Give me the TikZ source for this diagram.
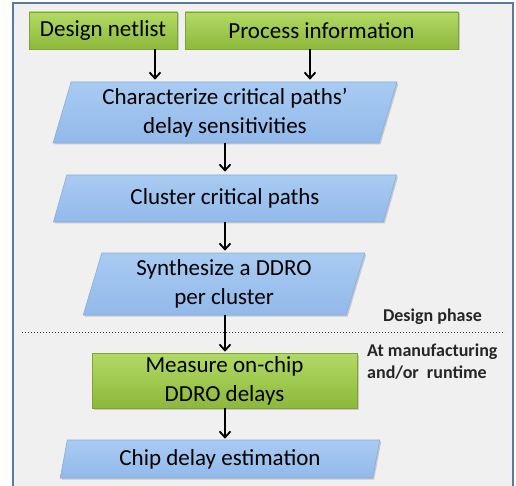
\documentclass[tikz,border=0pt]{standalone}
\usepackage{fontspec}
\setmainfont{Carlito}
\usetikzlibrary{shapes.geometric,arrows.meta,shadows,calc}
\definecolor{framebg}{HTML}{F0F0F0}
\definecolor{frameline}{HTML}{5B7AA0}
\definecolor{gtop}{HTML}{B2DA66}
\definecolor{gbot}{HTML}{8DB83A}
\definecolor{gline}{HTML}{7FA335}
\definecolor{btop}{HTML}{A8CBF2}
\definecolor{bbot}{HTML}{92B9EA}
\definecolor{bline}{HTML}{86AEDD}
\tikzset{
  mainfont/.style={font=\fontsize{23}{29}\selectfont, align=center, text=black},
  greenbox/.style={mainfont, rectangle, draw=gline, line width=0.6pt,
    top color=gtop, bottom color=gbot, inner sep=0pt,
    drop shadow={shadow xshift=1.5pt, shadow yshift=-1.5pt, opacity=0.35}},
  bluebox/.style={mainfont, trapezium, trapezium stretches=true, draw=bline, line width=0.6pt,
    top color=btop, bottom color=bbot, inner sep=0pt,
    drop shadow={shadow xshift=1.5pt, shadow yshift=-1.5pt, opacity=0.35}},
  arr/.style={line width=1.8pt, -{Straight Barb[length=6pt,width=11pt,line width=1.8pt]}},
  lbl/.style={font=\fontsize{18}{22}\selectfont\bfseries, text=black!85, inner sep=0pt}
}
\begin{document}
\begin{tikzpicture}[x=1pt,y=-1pt]
\useasboundingbox (0,0) rectangle (516,486);
\fill[white] (0,0) rectangle (516,486);
\draw[frameline, fill=framebg, line width=1.6pt] (13,3) rectangle (513,492);

\node[greenbox, minimum width=148, minimum height=37] (netlist) at (103,30.5) {Design netlist};
\node[greenbox, minimum width=273, minimum height=37] (process) at (321.5,30.5) {Process information};

\node[bluebox, minimum width=344, minimum height=61, trapezium left angle=73.6, trapezium right angle=106.4] (char) at (225,112.5) {Characterize critical paths'\\delay sensitivities};
\node[bluebox, minimum width=344, minimum height=47, trapezium left angle=68, trapezium right angle=112] (cluster) at (225,198.5) {Cluster critical paths};
\node[bluebox, minimum width=282, minimum height=62, trapezium left angle=74.7, trapezium right angle=105.3] (synth) at (224,284) {Synthesize a DDRO\\per cluster};
\node[greenbox, minimum width=265, minimum height=55] (measure) at (224.5,380.5) {Measure on-chip\\DDRO delays};
\node[bluebox, minimum width=320, minimum height=38, trapezium left angle=76.7, trapezium right angle=103.3] (chip) at (220,459) {Chip delay estimation};

\node[lbl, anchor=east] (phase) at (482,317) {Design phase};
\node[lbl, anchor=north west, align=left] (when) at (367,344) {At manufacturing\\and/or\ \ runtime};

\draw[dotted, line width=1pt, black!80] (22,332) -- (505,332);

\coordinate (ax1) at (155,0);
\coordinate (ax2) at (310,0);
\coordinate (ax3) at (225,0);
\draw[arr, shorten >=2pt] (netlist.south -| ax1) -- (char.north -| ax1);
\draw[arr, shorten >=2pt] (process.south -| ax2) -- (char.north -| ax2);
\draw[arr, shorten >=3pt] (char.south -| ax3) -- (cluster.north -| ax3);
\draw[arr, shorten >=2pt] (cluster.south -| ax3) -- (synth.north -| ax3);
\draw[arr, shorten >=1pt] (synth.south -| ax3) -- (measure.north -| ax3);
\draw[arr, shorten >=1pt] (measure.south -| ax3) -- (chip.north -| ax3);
\end{tikzpicture}
\end{document}
